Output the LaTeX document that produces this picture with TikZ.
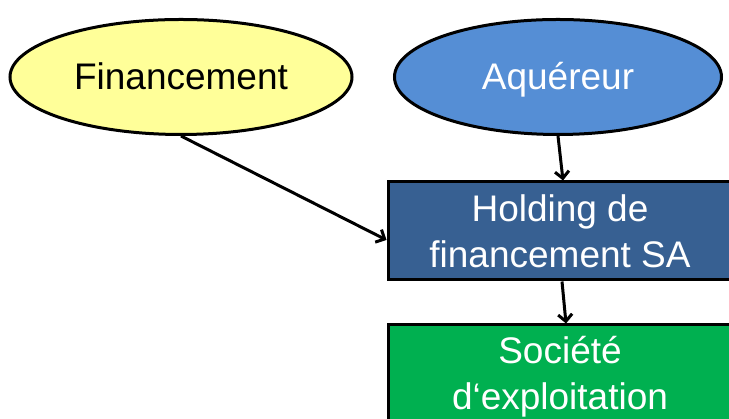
\documentclass[tikz,border=0pt]{standalone}
\usepackage{fontspec}
\setmainfont{Liberation Sans}
\usetikzlibrary{shapes.geometric, arrows.meta}

\definecolor{financeyellow}{HTML}{FFFF99}
\definecolor{acqblue}{HTML}{558ED5}
\definecolor{holdblue}{HTML}{376092}
\definecolor{exploitgreen}{HTML}{00B050}

\tikzset{
  bubble/.style={ellipse, draw=black, line width=3pt, inner sep=0pt,
    minimum width=342pt, minimum height=115pt, text height=26pt, text depth=0pt},
  company/.style={rectangle, draw=black, line width=3pt, inner sep=0pt,
    minimum width=344pt, text=white, align=center},
  link/.style={-{Straight Barb[length=7pt, width=14pt]}, line width=3pt}
}

\begin{document}
\begin{tikzpicture}[x=1pt, y=1pt, font=\fontsize{37}{46}\selectfont]

\useasboundingbox (0,0) rectangle (729,419);
\clip (0,0) rectangle (729,419);

% ellipses
\node[bubble, fill=financeyellow] (fin) at (181,342) {Financement};
\node[bubble, fill=acqblue, text=white, minimum width=327pt] (acq) at (558,342) {Aquéreur};

% societes
\node[company, fill=holdblue, minimum height=98pt] (hold) at (560,188) {Holding de\\financement SA};
\node[company, fill=exploitgreen, minimum height=104pt] (expl) at (560,42) {Société\\d‘exploitation};

% fleches
\draw[link] (fin.south) -- ([yshift=-9pt]hold.west);
\draw[link] (acq.south) -- ([xshift=3pt]hold.north);
\draw[link] ([xshift=2pt]hold.south) -- ([xshift=6pt]expl.north);

\end{tikzpicture}
\end{document}
